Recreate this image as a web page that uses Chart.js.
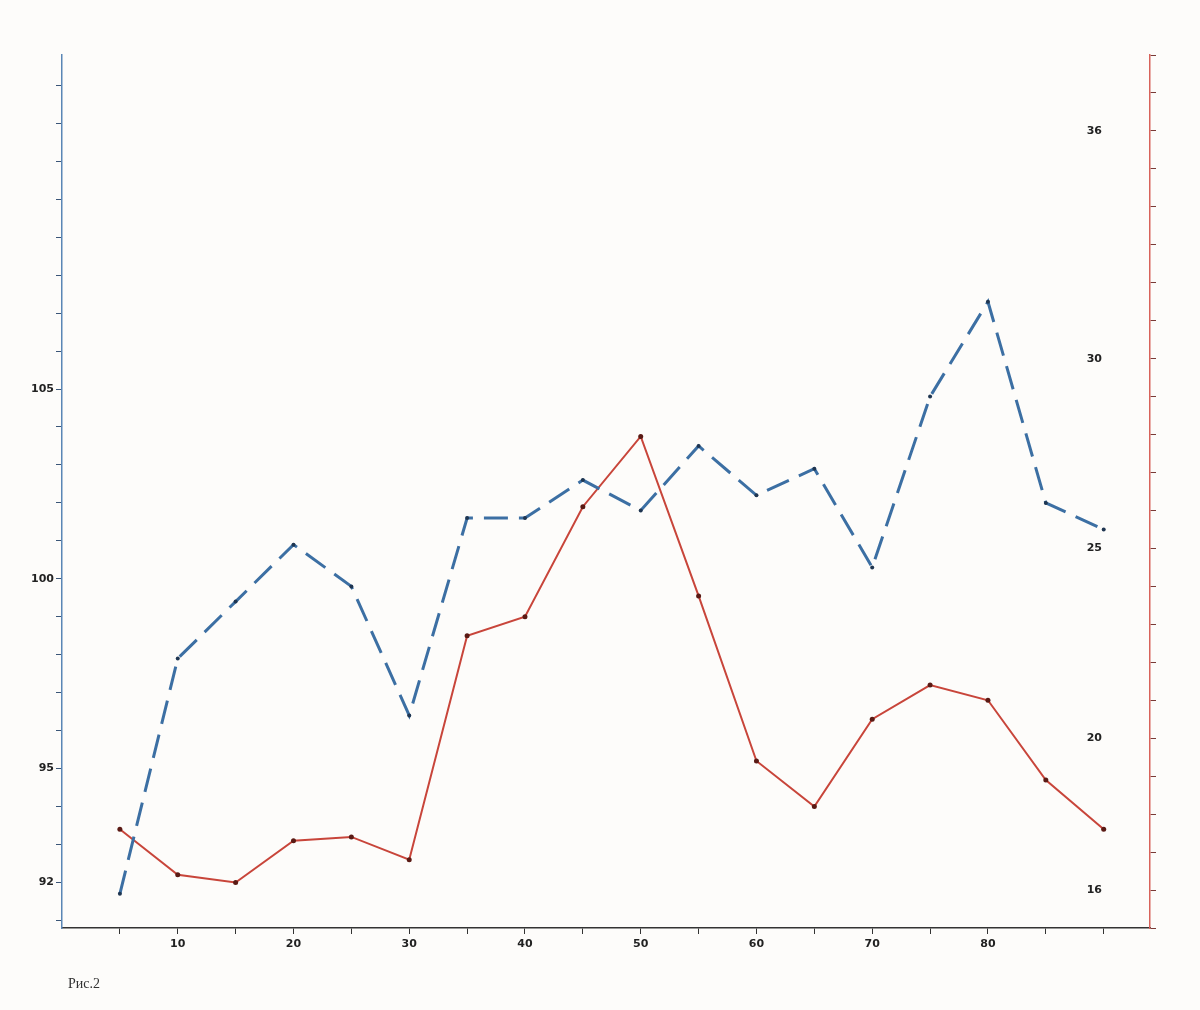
<!DOCTYPE html>
<html>
<head>
<meta charset="utf-8">
<script src="https://cdn.jsdelivr.net/npm/chart.js@4.4.1/dist/chart.umd.min.js"></script>
<style>
  body { margin: 0; background: #fdfcfa; }
  #wrap { position: relative; width: 1200px; height: 1010px; }
  #caption { position: absolute; left: 68px; top: 976px; font: 14px "Liberation Serif", serif; color: #333; }
</style>
</head>
<body>
<div id="wrap">
  <canvas id="myChart" width="1200" height="1010"></canvas>
  <div id="caption">Рис.2</div>
</div>
<script>
// Data
const xValues = [5, 10, 15, 20, 25, 30, 35, 40, 45, 50, 55, 60, 65, 70, 75, 80, 85, 90];
const blueValues = [91.7, 97.9, 99.4, 100.9, 99.8, 96.4, 101.6, 101.6, 102.6, 101.8, 103.5, 102.2, 102.9, 100.3, 104.8, 107.3, 102.0, 101.3];
const redValues = [17.6, 16.4, 16.2, 17.3, 17.4, 16.8, 22.7, 23.2, 26.1, 27.95, 23.75, 19.4, 18.2, 20.5, 21.4, 21.0, 18.9, 17.6];
const xLabels = [10, 20, 30, 40, 50, 60, 70, 80];
const leftLabels = [92, 95, 100, 105];
const rightLabels = [16, 20, 25, 30, 36];

const toPoints = vals => vals.map((v, i) => ({ x: xValues[i], y: v }));

function intTicks(from, to, step) {
    const out = [];
    for (let v = from; v <= to; v += step) out.push({ value: v });
    return out;
}

const tickFont = { family: "DejaVu Sans", size: 11, weight: 'bold' };

const ctx = document.getElementById('myChart').getContext('2d');

new Chart(ctx, {
    type: 'line',
    data: {
        datasets: [{
            label: 'blue',
            data: toPoints(blueValues),
            yAxisID: 'y',
            borderColor: '#3c6fa3',
            borderWidth: 3,
            borderDash: [24, 11],
            pointRadius: 2,
            pointBackgroundColor: '#1f3550',
            pointBorderWidth: 0,
            tension: 0
        }, {
            label: 'red',
            data: toPoints(redValues),
            yAxisID: 'y1',
            borderColor: '#c8453a',
            borderWidth: 2,
            pointRadius: 2.5,
            pointBackgroundColor: '#5a1a14',
            pointBorderWidth: 0,
            tension: 0
        }]
    },
    options: {
        responsive: false,
        animation: false,
        layout: { padding: { top: 55, bottom: 42, left: 0, right: 0 } },
        plugins: {
            legend: { display: false },
            tooltip: { enabled: false }
        },
        scales: {
            x: {
                type: 'linear',
                min: 0,
                max: 94,
                afterBuildTicks: s => { s.ticks = intTicks(5, 90, 5); },
                afterFit: s => { s.height = 40; },
                ticks: {
                    autoSkip: false,
                    maxRotation: 0,
                    color: '#222',
                    font: tickFont,
                    padding: 4,
                    callback: v => xLabels.includes(v) ? String(v) : ''
                },
                grid: { drawOnChartArea: false, tickLength: 6, color: '#333' },
                border: { color: '#333', width: 1.5 }
            },
            y: {
                position: 'left',
                min: 90.8,
                max: 113.8,
                afterBuildTicks: s => { s.ticks = intTicks(91, 113, 1); },
                afterFit: s => { s.width = 62; },
                ticks: {
                    autoSkip: false,
                    color: '#222',
                    font: tickFont,
                    padding: 2,
                    callback: v => leftLabels.includes(v) ? String(v) : ''
                },
                grid: { drawOnChartArea: false, tickLength: 6, color: '#3a5577' },
                border: { color: '#5a86b5', width: 1.5 }
            },
            y1: {
                position: 'right',
                min: 15,
                max: 38,
                afterBuildTicks: s => { s.ticks = intTicks(15, 38, 1); },
                afterFit: s => { s.width = 50; },
                ticks: {
                    autoSkip: false,
                    mirror: true,
                    color: '#222',
                    font: tickFont,
                    padding: -48,
                    callback: v => rightLabels.includes(v) ? String(v) : ''
                },
                grid: { drawOnChartArea: false, tickLength: 6, color: '#7a3a36' },
                border: { color: '#d8625a', width: 1.5 }
            }
        }
    }
});
</script>
</body>
</html>
